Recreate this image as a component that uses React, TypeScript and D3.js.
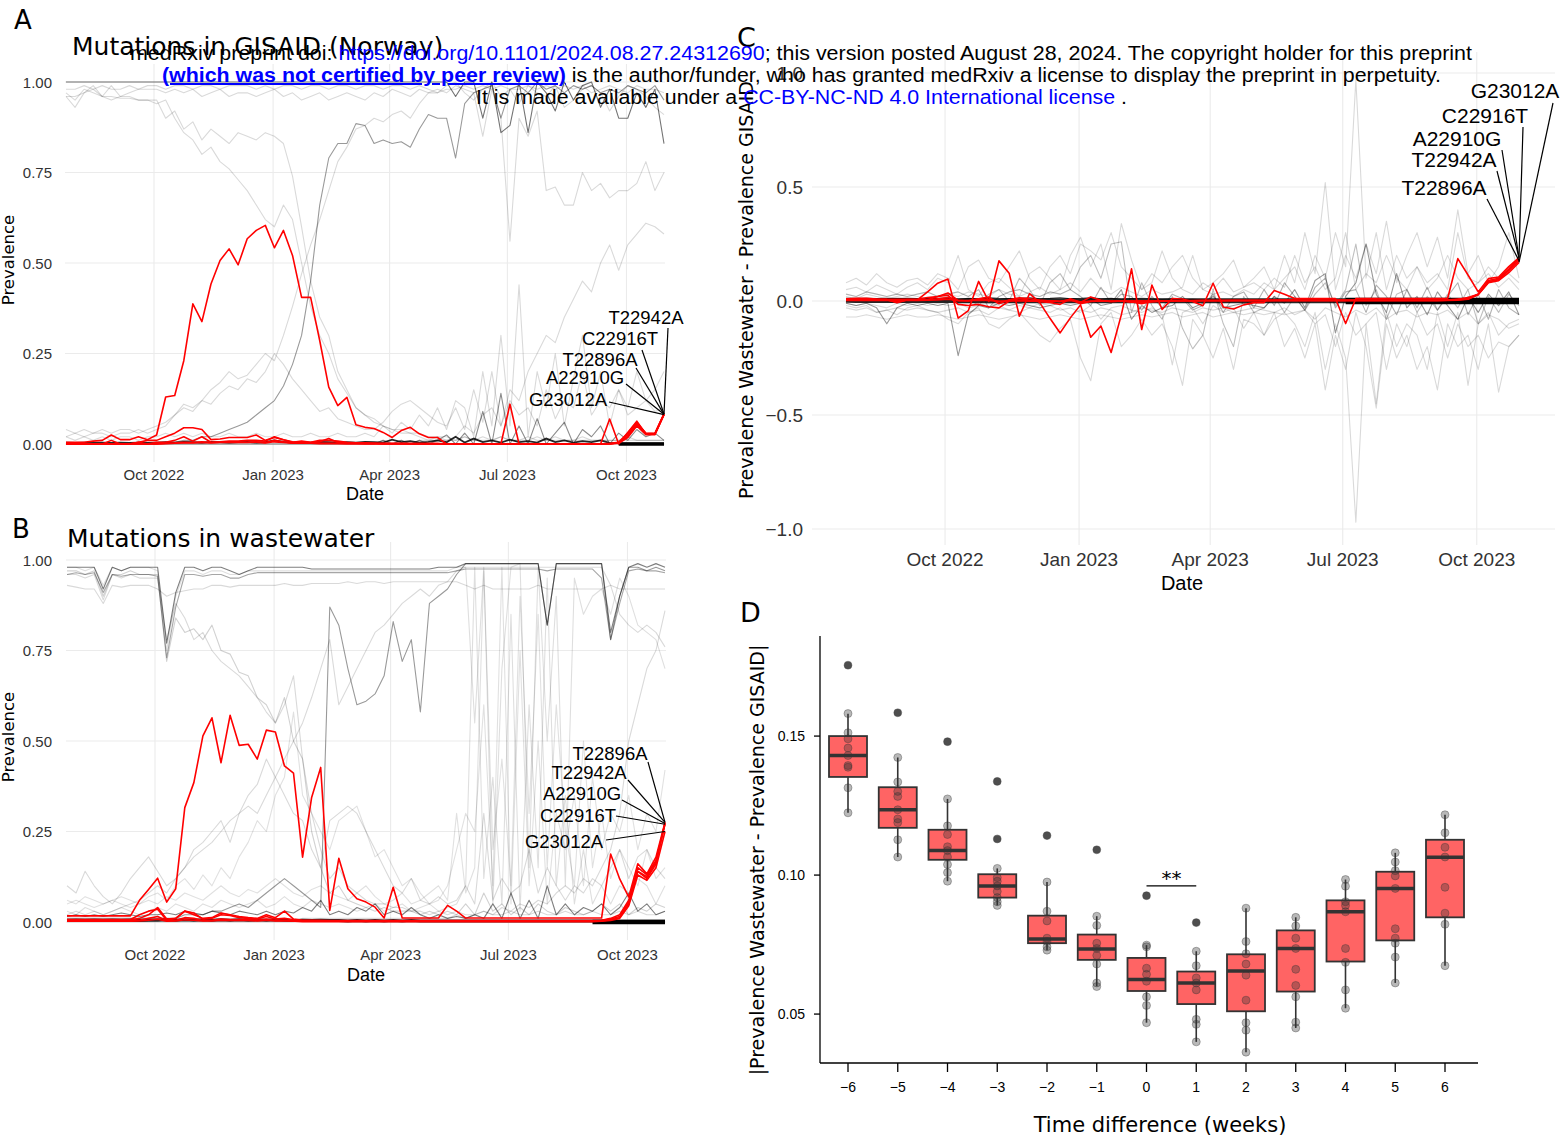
import React from 'react'
import * as d3 from 'd3'

// weekly sampling dates (Mondays), Jul 2022 - Oct 2023
const weekDates = d3.timeMonday.range(new Date(2022, 6, 25), new Date(2023, 9, 31))
const dateTicks = [new Date(2022, 9, 1), new Date(2023, 0, 1), new Date(2023, 3, 1), new Date(2023, 6, 1), new Date(2023, 9, 1)]
const mutations = ['G23012A', 'C22916T', 'A22910G', 'T22942A', 'T22896A']

// ---------- A: GISAID prevalence ----------
const gisaidG23012A = [
  0, 0, 0, 0, 0, 0, 0, 0, 0, 0,
  0, 0.001, 0.002, 0.003, 0.003, 0.004, 0.003, 0.004, 0.005, 0.004,
  0.004, 0.005, 0.003, 0.006, 0.004, 0.002, 0.002, 0.002, 0.001, 0.001,
  0.001, 0.001, 0.001, 0, 0, 0, 0, 0, 0, 0,
  0, 0, 0, 0, 0, 0, 0, 0, 0, 0,
  0, 0, 0, 0, 0, 0, 0, 0, 0, 0,
  0, 0.002, 0.018, 0.05, 0.026, 0.026, 0.081,
]
const gisaidC22916T = [
  0, 0, 0, 0, 0, 0, 0, 0, 0.005, 0.01,
  0.01, 0.02, 0.03, 0.045, 0.045, 0.04, 0.012, 0.014, 0.018, 0.018,
  0.018, 0.025, 0.01, 0.018, 0.012, 0.005, 0.008, 0.005, 0.01, 0.01,
  0.008, 0.005, 0.003, 0.003, 0.002, 0.002, 0.002, 0.002, 0.001, 0.001,
  0.001, 0.001, 0, 0, 0, 0, 0, 0, 0, 0,
  0, 0, 0, 0, 0, 0, 0, 0, 0, 0,
  0.002, 0.005, 0.03, 0.06, 0.028, 0.03, 0.083,
]
const gisaidA22910G = [
  0, 0, 0, 0, 0, 0.01, 0, 0, 0.005, 0,
  0.005, 0.005, 0.01, 0.02, 0.008, 0.02, 0.005, 0.006, 0.008, 0.008,
  0.01, 0.01, 0.008, 0.02, 0.012, 0.006, 0.005, 0.004, 0.006, 0.015,
  0.004, 0.003, 0.002, 0.002, 0.002, 0.001, 0.001, 0.001, 0.001, 0.001,
  0.001, 0.001, 0, 0, 0, 0, 0, 0, 0, 0,
  0, 0, 0, 0, 0, 0, 0, 0, 0, 0,
  0, 0.004, 0.025, 0.058, 0.03, 0.028, 0.082,
]
const gisaidT22942A = [
  0.005, 0.005, 0.005, 0.008, 0.01, 0.025, 0.012, 0.012, 0.02, 0.012,
  0.025, 0.13, 0.134, 0.23, 0.387, 0.338, 0.442, 0.507, 0.539, 0.495,
  0.567, 0.59, 0.604, 0.542, 0.59, 0.521, 0.405, 0.405, 0.286, 0.157,
  0.106, 0.129, 0.053, 0.046, 0.043, 0.032, 0.018, 0.037, 0.046, 0.028,
  0.018, 0.018, 0, 0, 0, 0, 0, 0, 0, 0.11,
  0, 0, 0, 0, 0, 0, 0, 0, 0, 0,
  0.069, 0, 0.032, 0.063, 0.028, 0.028, 0.083,
]
const gisaidT22896A = [
  0, 0, 0, 0, 0, 0, 0, 0, 0, 0,
  0, 0.002, 0.003, 0.005, 0.004, 0.006, 0.004, 0.005, 0.006, 0.005,
  0.005, 0.006, 0.004, 0.01, 0.006, 0.003, 0.003, 0.002, 0.002, 0.002,
  0.002, 0.001, 0.001, 0.001, 0.001, 0, 0, 0, 0, 0,
  0, 0, 0, 0, 0, 0, 0, 0, 0, 0,
  0, 0, 0, 0, 0, 0, 0, 0, 0, 0,
  0, 0.003, 0.02, 0.055, 0.027, 0.027, 0.082,
]
// other (background) mutations in GISAID
const gisaidBg1 = [
  1, 1, 1, 1, 1, 1, 1, 1, 1, 1,
  1, 1, 1, 1, 1, 1, 1, 1, 1, 1,
  1, 1, 1, 1, 1, 1, 1, 1, 1, 1,
  1, 1, 1, 1, 1, 1, 1, 1, 1, 1,
  1, 1, 1, 0.96, 1, 1, 0.9, 1, 0.86, 0.88,
  1, 0.86, 1, 0.97, 0.92, 1, 0.95, 0.99, 1, 0.93,
  0.98, 0.9, 0.9, 0.97, 0.93, 0.98, 0.83,
]
const gisaidBg2 = [
  0.96, 0.93, 0.97, 0.99, 0.96, 0.99, 0.96, 0.97, 0.98, 0.99,
  0.99, 0.98, 0.99, 0.99, 0.98, 0.99, 0.99, 0.98, 0.99, 0.99,
  0.99, 0.98, 0.99, 0.98, 0.99, 0.99, 0.98, 0.99, 0.99, 0.98,
  0.99, 0.99, 0.98, 0.99, 0.99, 0.98, 0.99, 0.99, 0.98, 0.99,
  0.98, 0.97, 0.99, 1, 0.97, 0.95, 0.98, 1, 0.96, 0.98,
  0.94, 0.99, 0.97, 0.96, 0.99, 0.93, 0.95, 0.98, 0.99, 0.97,
  0.92, 0.96, 0.99, 0.98, 0.96, 0.93, 0.91,
]
const gisaidBg3 = [
  0.97, 0.95, 0.98, 0.97, 0.96, 0.96, 0.955, 0.955, 0.95, 0.95,
  0.95, 0.9, 0.92, 0.87, 0.89, 0.84, 0.87, 0.85, 0.83, 0.86,
  0.85, 0.84, 0.86, 0.85, 0.83, 0.74, 0.6, 0.45, 0.35, 0.3,
  0.2, 0.15, 0.1, 0.08, 0.06, 0.05, 0.04, 0.03, 0.03, 0.02,
  0.01, 0.01, 0.01, 0.01, 0.02, 0.01, 0.01, 0.01, 0.02, 0.01,
  0.01, 0.01, 0.02, 0.01, 0.01, 0.01, 0.01, 0.01, 0.01, 0.01,
  0.01, 0.01, 0.01, 0.01, 0.01, 0.01, 0.01,
]
const gisaidBg4 = [
  0.96, 0.96, 0.97, 0.98, 0.96, 0.95, 0.96, 0.96, 0.95, 0.95,
  0.94, 0.95, 0.9, 0.86, 0.84, 0.8, 0.82, 0.78, 0.76, 0.73,
  0.7, 0.66, 0.62, 0.6, 0.66, 0.62, 0.5, 0.38, 0.3, 0.25,
  0.18, 0.14, 0.1, 0.08, 0.07, 0.05, 0.04, 0.04, 0.03, 0.03,
  0.02, 0.02, 0.02, 0.01, 0.02, 0.01, 0.02, 0.01, 0.02, 0.01,
  0.01, 0.02, 0.01, 0.01, 0.02, 0.01, 0.01, 0.02, 0.01, 0.01,
  0.01, 0.01, 0.02, 0.01, 0.01, 0.01, 0.01,
]
const gisaidBg5 = [
  0, 0, 0, 0, 0, 0, 0, 0, 0, 0,
  0, 0.005, 0.005, 0.01, 0.01, 0.02, 0.02, 0.03, 0.04, 0.05,
  0.06, 0.08, 0.1, 0.12, 0.16, 0.22, 0.3, 0.45, 0.66, 0.79,
  0.83, 0.83, 0.885, 0.88, 0.83, 0.84, 0.83, 0.835, 0.82, 0.87,
  0.91, 0.9, 0.9, 0.79, 0.94, 0.97, 0.98, 0.99, 0.9, 0.98,
  0.99, 0.97, 1, 0.98, 0.99, 0.97, 0.99, 0.98, 0.99, 0.97,
  0.98, 0.97, 0.99, 0.98, 0.97, 0.99, 0.95,
]
const gisaidBg6 = [
  0.02, 0.03, 0.02, 0.03, 0.03, 0.02, 0.03, 0.03, 0.04, 0.03,
  0.04, 0.05, 0.08, 0.11, 0.1, 0.12, 0.15, 0.17, 0.2, 0.18,
  0.19, 0.22, 0.25, 0.23, 0.3, 0.38, 0.47, 0.55, 0.62, 0.7,
  0.78, 0.82, 0.87, 0.88, 0.9, 0.89, 0.91, 0.92, 0.9, 0.94,
  0.97, 0.97, 0.98, 0.98, 0.99, 0.98, 0.99, 0.98, 0.99, 0.98,
  0.98, 0.99, 0.98, 0.99, 0.98, 0.99, 0.98, 0.99, 0.97, 0.98,
  0.99, 0.98, 0.97, 0.99, 0.98, 0.98, 0.97,
]
const gisaidBg7 = [
  0.04, 0.03, 0.04, 0.03, 0.04, 0.03, 0.04, 0.04, 0.03, 0.04,
  0.05, 0.06, 0.08, 0.1, 0.09, 0.12, 0.11, 0.14, 0.16, 0.15,
  0.18, 0.17, 0.2, 0.25, 0.22, 0.18, 0.15, 0.12, 0.09, 0.1,
  0.07, 0.06, 0.05, 0.04, 0.04, 0.06, 0.09, 0.11, 0.12, 0.1,
  0.08, 0.06, 0.05, 0.1, 0.04, 0.15, 0.06, 0.2, 0.05, 0.12,
  0.08, 0.1, 0.05, 0.15, 0.07, 0.12, 0.1, 0.2, 0.08, 0.12,
  0.1, 0.15, 0.08, 0.1, 0.12, 0.09, 0.1,
]
const gisaidBg8 = [
  0, 0, 0, 0, 0, 0, 0, 0, 0, 0,
  0, 0, 0, 0, 0, 0, 0, 0, 0, 0,
  0, 0, 0, 0, 0, 0, 0, 0, 0, 0,
  0, 0, 0, 0, 0, 0.01, 0, 0.01, 0, 0.01,
  0.01, 0.02, 0.01, 0.02, 0.05, 0.03, 0.08, 0.1, 0.05, 0.15,
  0.12, 0.2, 0.25, 0.3, 0.28, 0.35, 0.4, 0.45, 0.42, 0.5,
  0.55, 0.48, 0.55, 0.58, 0.61, 0.6, 0.58,
]
const gisaidBg9 = [
  0.98, 0.98, 0.99, 0.98, 0.99, 0.98, 0.98, 0.99, 0.98, 0.98,
  0.98, 0.97, 0.98, 0.97, 0.98, 0.96, 0.97, 0.98, 0.96, 0.97,
  0.97, 0.96, 0.97, 0.98, 0.96, 0.97, 0.95, 0.96, 0.97, 0.95,
  0.96, 0.97, 0.96, 0.95, 0.97, 0.96, 0.98, 0.97, 0.96, 0.98,
  0.97, 0.98, 0.97, 0.99, 0.98, 0.97, 0.85, 0.98, 0.9, 0.56,
  0.9, 0.85, 0.92, 0.7, 0.71, 0.66, 0.66, 0.75, 0.7, 0.72,
  0.68, 0.7, 0.7, 0.72, 0.78, 0.7, 0.75,
]
const gisaidBg10 = [
  0, 0, 0, 0, 0, 0, 0, 0, 0, 0,
  0, 0, 0, 0, 0, 0, 0, 0, 0, 0,
  0, 0, 0, 0, 0, 0, 0, 0, 0, 0,
  0, 0, 0, 0, 0, 0.01, 0, 0.01, 0, 0.01,
  0, 0.01, 0.025, 0, 0.03, 0, 0.09, 0, 0.14, 0,
  0.05, 0, 0.07, 0, 0.03, 0.06, 0, 0.04, 0.02, 0.05,
  0, 0.03, 0.01, 0.04, 0.02, 0.03, 0.01,
]
const gisaidBg11 = [
  0.02, 0.01, 0.02, 0.01, 0.02, 0.01, 0.02, 0.02, 0.01, 0.02,
  0.02, 0.03, 0.02, 0.03, 0.02, 0.03, 0.02, 0.02, 0.03, 0.02,
  0.02, 0.03, 0.02, 0.02, 0.03, 0.02, 0.02, 0.03, 0.02, 0.02,
  0.03, 0.02, 0.02, 0.03, 0.02, 0.05, 0.03, 0.06, 0.04, 0.08,
  0.05, 0.1, 0.04, 0.12, 0.1, 0.02, 0.2, 0.05, 0.3, 0.05,
  0.44, 0.02, 0.2, 0.1, 0.25, 0.05, 0.18, 0.3, 0.1, 0.2,
  0.05, 0.15, 0.1, 0.2, 0.12, 0.15, 0.2,
]
const gisaidLow = [
  0.004, 0.003, 0.004, 0.003, 0.004, 0.003, 0.004, 0.003, 0.004, 0.003,
  0.004, 0.005, 0.004, 0.006, 0.005, 0.004, 0.006, 0.005, 0.004, 0.005,
  0.006, 0.004, 0.005, 0.01, 0.006, 0.004, 0.005, 0.004, 0.006, 0.005,
  0.004, 0.005, 0.004, 0.006, 0.005, 0.004, 0.012, 0.005, 0.008, 0.004,
  0.006, 0.01, 0.005, 0.02, 0.004, 0.015, 0.005, 0.01, 0.004, 0.012,
  0.005, 0.008, 0.004, 0.015, 0.005, 0.01, 0.004, 0.008, 0.005, 0.01,
  0.003, 0.002, 0.002, 0.002, 0.002, 0.002, 0.002,
]
const gisaidTail = [0, 0, 0, 0, 0, 0]

// ---------- B: wastewater prevalence ----------
const wwG23012A = [
  0.002, 0.002, 0.002, 0.002, 0.002, 0.002, 0.002, 0.002, 0.003, 0.005,
  0.008, 0.002, 0.003, 0.006, 0.005, 0.003, 0.003, 0.005, 0.004, 0.004,
  0.004, 0.003, 0.005, 0.003, 0.003, 0.002, 0.001, 0.001, 0.001, 0.001,
  0.001, 0.001, 0.001, 0.001, 0.001, 0.001, 0.001, 0.001, 0.001, 0.001,
  0.001, 0.001, 0.001, 0.001, 0.001, 0.001, 0.001, 0.001, 0.001, 0.001,
  0.001, 0.001, 0.001, 0.001, 0.001, 0.001, 0.001, 0.001, 0.001, 0.002,
  0.004, 0.01, 0.045, 0.13, 0.115, 0.15, 0.25,
]
const wwC22916T = [
  0.007, 0.007, 0.007, 0.007, 0.007, 0.007, 0.007, 0.007, 0.02, 0.03,
  0.035, 0.005, 0.01, 0.03, 0.02, 0.01, 0.012, 0.025, 0.02, 0.015,
  0.012, 0.01, 0.02, 0.012, 0.03, 0.008, 0.005, 0.005, 0.005, 0.004,
  0.004, 0.004, 0.004, 0.004, 0.004, 0.004, 0.004, 0.004, 0.004, 0.004,
  0.004, 0.004, 0.004, 0.004, 0.004, 0.004, 0.004, 0.004, 0.004, 0.004,
  0.004, 0.004, 0.004, 0.004, 0.004, 0.004, 0.004, 0.004, 0.004, 0.005,
  0.01, 0.02, 0.06, 0.15, 0.13, 0.17, 0.27,
]
const wwA22910G = [
  0.005, 0.005, 0.006, 0.005, 0.005, 0.005, 0.006, 0.005, 0.01, 0.02,
  0.04, 0.008, 0.01, 0.03, 0.025, 0.008, 0.01, 0.02, 0.018, 0.012,
  0.01, 0.008, 0.015, 0.008, 0.01, 0.006, 0.004, 0.004, 0.003, 0.003,
  0.003, 0.003, 0.003, 0.003, 0.003, 0.003, 0.003, 0.003, 0.003, 0.003,
  0.003, 0.003, 0.003, 0.003, 0.003, 0.003, 0.003, 0.003, 0.003, 0.003,
  0.003, 0.003, 0.003, 0.003, 0.003, 0.003, 0.003, 0.003, 0.003, 0.004,
  0.008, 0.015, 0.055, 0.14, 0.125, 0.165, 0.272,
]
const wwT22942A = [
  0.017, 0.017, 0.017, 0.017, 0.017, 0.017, 0.017, 0.017, 0.06, 0.09,
  0.121, 0.055, 0.092, 0.316, 0.385, 0.514, 0.564, 0.44, 0.571, 0.488,
  0.491, 0.45, 0.53, 0.525, 0.431, 0.411, 0.179, 0.344, 0.427, 0.032,
  0.176, 0.092, 0.064, 0.055, 0.041, 0.011, 0.096, 0.011, 0.011, 0.011,
  0.011, 0.011, 0.046, 0.03, 0.011, 0.011, 0.011, 0.011, 0.011, 0.011,
  0.011, 0.011, 0.011, 0.011, 0.011, 0.011, 0.011, 0.011, 0.011, 0.011,
  0.188, 0.119, 0.069, 0.161, 0.133, 0.179, 0.275,
]
const wwT22896A = [
  0.003, 0.003, 0.003, 0.003, 0.003, 0.003, 0.003, 0.003, 0.005, 0.01,
  0.015, 0.004, 0.005, 0.012, 0.01, 0.004, 0.005, 0.008, 0.007, 0.006,
  0.006, 0.005, 0.008, 0.004, 0.005, 0.003, 0.002, 0.002, 0.002, 0.002,
  0.002, 0.002, 0.002, 0.002, 0.002, 0.002, 0.002, 0.002, 0.002, 0.002,
  0.002, 0.002, 0.002, 0.002, 0.002, 0.002, 0.002, 0.002, 0.002, 0.002,
  0.002, 0.002, 0.002, 0.002, 0.002, 0.002, 0.002, 0.002, 0.002, 0.003,
  0.006, 0.012, 0.05, 0.14, 0.12, 0.16, 0.275,
]
const wwBg1 = [
  0.98, 0.98, 0.98, 0.98, 0.92, 0.98, 0.97, 0.98, 0.98, 0.98,
  0.98, 0.77, 0.91, 0.98, 0.98, 0.97, 0.98, 0.98, 0.97, 0.96,
  0.97, 0.98, 0.98, 0.98, 0.98, 0.98, 0.98, 0.975, 0.975, 0.975,
  0.975, 0.975, 0.975, 0.975, 0.975, 0.975, 0.975, 0.975, 0.975, 0.975,
  0.975, 0.98, 0.98, 0.98, 0.99, 0.99, 0.99, 0.99, 0.99, 0.99,
  0.99, 0.99, 0.99, 0.82, 0.99, 0.99, 0.99, 0.99, 0.99, 0.99,
  0.8, 0.9, 0.98, 0.99, 0.98, 0.99, 0.98,
]
const wwBg2 = [
  0.96, 0.965, 0.96, 0.965, 0.91, 0.96, 0.955, 0.96, 0.96, 0.96,
  0.955, 0.73, 0.87, 0.96, 0.96, 0.955, 0.96, 0.96, 0.95, 0.95,
  0.96, 0.965, 0.965, 0.965, 0.965, 0.965, 0.965, 0.965, 0.965, 0.965,
  0.965, 0.965, 0.965, 0.965, 0.965, 0.965, 0.965, 0.965, 0.965, 0.965,
  0.965, 0.965, 0.965, 0.97, 0.975, 0.975, 0.975, 0.975, 0.975, 0.975,
  0.975, 0.975, 0.975, 0.97, 0.975, 0.975, 0.975, 0.975, 0.975, 0.95,
  0.78, 0.88, 0.97, 0.975, 0.97, 0.97, 0.965,
]
const wwBg3 = [
  0.93, 0.925, 0.92, 0.92, 0.88, 0.93, 0.925, 0.93, 0.93, 0.93,
  0.92, 0.9, 0.91, 0.915, 0.92, 0.92, 0.93, 0.93, 0.925, 0.93,
  0.93, 0.93, 0.93, 0.93, 0.935, 0.93, 0.93, 0.935, 0.935, 0.935,
  0.935, 0.94, 0.935, 0.94, 0.94, 0.935, 0.94, 0.94, 0.94, 0.94,
  0.94, 0.94, 0.94, 0.94, 0.93, 0.92, 0.93, 0.92, 0.92, 0.92,
  0.92, 0.92, 0.93, 0.92, 0.92, 0.92, 0.92, 0.92, 0.92, 0.92,
  0.93, 0.92, 0.92, 0.92, 0.92, 0.92, 0.92,
]
const wwBg4 = [
  0.97, 0.97, 0.96, 0.97, 0.9, 0.96, 0.96, 0.97, 0.96, 0.96,
  0.96, 0.72, 0.84, 0.8, 0.81, 0.78, 0.82, 0.75, 0.74, 0.69,
  0.68, 0.62, 0.6, 0.55, 0.62, 0.5, 0.45, 0.25, 0.15, 0.08,
  0.1, 0.06, 0.05, 0.04, 0.03, 0.04, 0.03, 0.03, 0.03, 0.02,
  0.03, 0.02, 0.03, 0.02, 0.05, 0.02, 0.08, 0.03, 0.05, 0.02,
  0.04, 0.02, 0.05, 0.03, 0.02, 0.04, 0.03, 0.02, 0.03, 0.05,
  0.03, 0.05, 0.02, 0.04, 0.03, 0.05, 0.04,
]
const wwBg5 = [
  0.96, 0.96, 0.95, 0.96, 0.89, 0.96, 0.95, 0.96, 0.95, 0.95,
  0.95, 0.78, 0.88, 0.84, 0.78, 0.8, 0.75, 0.72, 0.7, 0.68,
  0.65, 0.62, 0.58, 0.55, 0.6, 0.68, 0.45, 0.3, 0.2, 0.12,
  0.15, 0.1, 0.08, 0.06, 0.05, 0.05, 0.04, 0.04, 0.03, 0.03,
  0.02, 0.03, 0.02, 0.03, 0.02, 0.02, 0.03, 0.02, 0.02, 0.03,
  0.02, 0.02, 0.03, 0.02, 0.02, 0.03, 0.02, 0.02, 0.03, 0.02,
  0.02, 0.03, 0.02, 0.03, 0.02, 0.02, 0.03,
]
const wwBg6 = [
  0.01, 0.01, 0.01, 0.01, 0.01, 0.01, 0.01, 0.01, 0.01, 0.01,
  0.01, 0.01, 0.01, 0.02, 0.02, 0.02, 0.03, 0.03, 0.04, 0.05,
  0.04, 0.06, 0.08, 0.1, 0.12, 0.1, 0.08, 0.06, 0.04, 0.87,
  0.82, 0.7, 0.6, 0.61, 0.63, 0.68, 0.83, 0.72, 0.78, 0.58,
  0.88, 0.9, 0.92, 0.96, 0.99, 0.99, 0.99, 0.99, 0.99, 0.99,
  0.99, 0.99, 0.99, 0.82, 0.99, 0.99, 0.99, 0.99, 0.99, 0.99,
  0.78, 0.9, 0.98, 0.98, 0.97, 0.98, 0.97,
]
const wwBg7 = [
  0.02, 0.03, 0.02, 0.03, 0.02, 0.03, 0.04, 0.05, 0.06, 0.08,
  0.1, 0.08, 0.12, 0.15, 0.18, 0.2, 0.22, 0.25, 0.28, 0.3,
  0.32, 0.3, 0.35, 0.4, 0.45, 0.5, 0.55, 0.62, 0.7, 0.78,
  0.6, 0.65, 0.7, 0.75, 0.8, 0.82, 0.85, 0.88, 0.9, 0.92,
  0.9, 0.93, 0.94, 0.97, 0.98, 0.98, 0.98, 0.98, 0.98, 0.98,
  0.98, 0.98, 0.98, 0.98, 0.98, 0.98, 0.98, 0.98, 0.98, 0.98,
  0.93, 0.85, 0.82, 0.8, 0.82, 0.8, 0.76,
]
const wwBg8 = [
  0.03, 0.02, 0.04, 0.03, 0.02, 0.03, 0.04, 0.03, 0.02, 0.03,
  0.04, 0.03, 0.05, 0.04, 0.03, 0.05, 0.04, 0.06, 0.05, 0.04,
  0.05, 0.06, 0.04, 0.05, 0.07, 0.05, 0.04, 0.06, 0.05, 0.04,
  0.05, 0.04, 0.03, 0.04, 0.05, 0.03, 0.04, 0.05, 0.03, 0.04,
  0.05, 0.03, 0.04, 0.05, 0.1, 0.98, 0.12, 0.4, 0.05, 0.85,
  0.03, 0.6, 0.15, 0.95, 0.1, 0.35, 0.05, 0.2, 0.05, 0.1,
  0.05, 0.1, 0.08, 0.12, 0.1, 0.05, 0.1,
]
const wwBg9 = [
  0.98, 0.98, 0.97, 0.98, 0.93, 0.98, 0.97, 0.98, 0.98, 0.98,
  0.97, 0.75, 0.9, 0.97, 0.97, 0.96, 0.97, 0.97, 0.96, 0.96,
  0.97, 0.97, 0.97, 0.97, 0.97, 0.97, 0.97, 0.97, 0.97, 0.97,
  0.97, 0.97, 0.97, 0.97, 0.97, 0.97, 0.97, 0.97, 0.97, 0.97,
  0.97, 0.97, 0.97, 0.98, 0.98, 0.55, 0.98, 0.05, 0.7, 0.98,
  0.99, 0.15, 0.98, 0.5, 0.9, 0.1, 0.95, 0.85, 0.9, 0.92,
  0.85, 0.95, 0.9, 0.82, 0.8, 0.78, 0.7,
]
const wwBg10 = [
  0.1, 0.08, 0.14, 0.1, 0.07, 0.05, 0.08, 0.12, 0.15, 0.18,
  0.14, 0.1, 0.12, 0.15, 0.2, 0.22, 0.25, 0.28, 0.22, 0.3,
  0.35, 0.38, 0.45, 0.4, 0.35, 0.3, 0.28, 0.2, 0.15, 0.28,
  0.3, 0.32, 0.3, 0.25, 0.2, 0.15, 0.1, 0.08, 0.12, 0.06,
  0.05, 0.07, 0.05, 0.06, 0.1, 0.05, 0.3, 0.06, 0.12, 0.08,
  0.1, 0.2, 0.08, 0.15, 0.1, 0.06, 0.1, 0.08, 0.12, 0.1,
  0.15, 0.2, 0.12, 0.18, 0.2, 0.15, 0.12,
]
const wwBg11 = [
  0.015, 0.02, 0.015, 0.02, 0.015, 0.02, 0.025, 0.02, 0.015, 0.02,
  0.02, 0.025, 0.02, 0.03, 0.025, 0.02, 0.03, 0.025, 0.02, 0.03,
  0.025, 0.02, 0.03, 0.02, 0.03, 0.025, 0.04, 0.03, 0.06, 0.02,
  0.03, 0.02, 0.04, 0.03, 0.05, 0.02, 0.03, 0.02, 0.04, 0.02,
  0.01, 0.02, 0.01, 0.015, 0.01, 0.02, 0.01, 0.05, 0.01, 0.08,
  0.01, 0.06, 0.01, 0.1, 0.02, 0.05, 0.02, 0.04, 0.03, 0.05,
  0.02, 0.04, 0.08, 0.03, 0.05, 0.02, 0.03,
]
const wwBg12 = [
  0, 0, 0, 0, 0, 0, 0, 0, 0, 0,
  0, 0, 0, 0, 0, 0, 0, 0, 0, 0,
  0, 0, 0, 0, 0, 0, 0.01, 0.01, 0.01, 0.01,
  0.01, 0.01, 0.01, 0.01, 0.01, 0.01, 0.01, 0.01, 0.01, 0.01,
  0.01, 0.01, 0.01, 0.02, 0.01, 0.02, 0.03, 0.02, 0.04, 0.03,
  0.05, 0.04, 0.06, 0.05, 0.08, 0.1, 0.08, 0.12, 0.1, 0.15,
  0.2, 0.3, 0.5, 0.6, 0.7, 0.75, 0.86,
]
const wwBg13 = [
  0.06, 0.05, 0.07, 0.06, 0.05, 0.06, 0.07, 0.06, 0.05, 0.07,
  0.08, 0.06, 0.1, 0.12, 0.09, 0.13, 0.1, 0.15, 0.12, 0.18,
  0.22, 0.28, 0.25, 0.35, 0.4, 0.58, 0.35, 0.3, 0.25, 0.2,
  0.28, 0.3, 0.32, 0.25, 0.18, 0.2, 0.15, 0.1, 0.12, 0.08,
  0.05, 0.06, 0.1, 0.2, 0.3, 0.25, 0.6, 0.1, 0.98, 0.05,
  0.75, 0.1, 0.5, 0.05, 0.3, 0.2, 0.35, 0.1, 0.4, 0.2,
  0.3, 0.25, 0.35, 0.2, 0.3, 0.25, 0.42,
]
const wwBg14 = [
  0.05, 0.06, 0.05, 0.04, 0.05, 0.06, 0.05, 0.04, 0.05, 0.06,
  0.05, 0.07, 0.06, 0.08, 0.07, 0.06, 0.08, 0.1, 0.08, 0.07,
  0.09, 0.08, 0.1, 0.12, 0.1, 0.08, 0.07, 0.09, 0.1, 0.08,
  0.07, 0.06, 0.08, 0.1, 0.07, 0.05, 0.06, 0.08, 0.05, 0.06,
  0.08, 0.1, 0.06, 0.3, 0.08, 0.15, 0.97, 0.2, 0.45, 0.1,
  0.9, 0.3, 0.85, 0.15, 0.6, 0.25, 0.1, 0.5, 0.15, 0.3,
  0.12, 0.2, 0.15, 0.1, 0.2, 0.12, 0.15,
]
const wwLow = [
  0.004, 0.005, 0.004, 0.005, 0.004, 0.005, 0.004, 0.005, 0.004, 0.005,
  0.005, 0.006, 0.005, 0.006, 0.005, 0.006, 0.005, 0.006, 0.005, 0.006,
  0.005, 0.006, 0.005, 0.006, 0.005, 0.004, 0.005, 0.004, 0.005, 0.004,
  0.004, 0.003, 0.004, 0.003, 0.004, 0.003, 0.004, 0.003, 0.004, 0.003,
  0.003, 0.003, 0.003, 0.003, 0.003, 0.003, 0.003, 0.003, 0.003, 0.003,
  0.003, 0.003, 0.003, 0.003, 0.003, 0.003, 0.003, 0.003, 0.003, 0.003,
  0.002, 0.002, 0.002, 0.002, 0.002, 0.002, 0.002,
]
const wwTail = [0, 0, 0, 0, 0, 0, 0, 0, 0]

// ---------- C: wastewater - GISAID ----------
const diffG23012A = [
  0.002, 0.002, 0.002, 0.002, 0.002, 0.002, 0.002, 0.002, 0.003, 0.005,
  0.008, 0.001, 0.001, 0.003, 0.002, -0.001, 0, 0.001, -0.001, 0,
  0, -0.002, 0.002, -0.003, -0.001, 0, -0.001, -0.001, 0, 0,
  0, 0, 0, 0.001, 0.001, 0.001, 0.001, 0.001, 0.001, 0.001,
  0.001, 0.001, 0.001, 0.001, 0.001, 0.001, 0.001, 0.001, 0.001, 0.001,
  0.001, 0.001, 0.001, 0.001, 0.001, 0.001, 0.001, 0.001, 0.001, 0.002,
  0.004, 0.008, 0.027, 0.08, 0.089, 0.124, 0.169,
]
const diffC22916T = [
  0.007, 0.007, 0.007, 0.007, 0.007, 0.007, 0.007, 0.007, 0.015, 0.02,
  0.025, -0.015, -0.02, -0.015, -0.025, -0.03, 0, 0.011, 0.002, -0.003,
  -0.006, -0.015, 0.01, -0.006, 0.018, 0.003, -0.003, 0, -0.005, -0.006,
  -0.004, -0.001, 0.001, 0.001, 0.002, 0.002, 0.002, 0.002, 0.003, 0.003,
  0.003, 0.003, 0.004, 0.004, 0.004, 0.004, 0.004, 0.004, 0.004, 0.004,
  0.004, 0.004, 0.004, 0.004, 0.004, 0.004, 0.004, 0.004, 0.004, 0.005,
  0.008, 0.015, 0.03, 0.09, 0.1, 0.14, 0.187,
]
const diffA22910G = [
  0.005, 0.005, 0.006, 0.005, 0.005, -0.005, 0.006, 0.005, 0.005, 0.02,
  0.035, 0.003, 0, 0.01, 0.017, -0.012, 0.005, 0.014, 0.01, 0.004,
  0, -0.002, 0.007, -0.012, -0.002, 0, -0.001, 0, -0.003, -0.012,
  -0.001, 0, 0.001, 0.001, 0.001, 0.002, 0.002, 0.002, 0.002, 0.002,
  0.002, 0.002, 0.003, 0.003, 0.003, 0.003, 0.003, 0.003, 0.003, 0.003,
  0.003, 0.003, 0.003, 0.003, 0.003, 0.003, 0.003, 0.003, 0.003, 0.004,
  0.008, 0.011, 0.03, 0.082, 0.095, 0.137, 0.19,
]
const diffT22942A = [
  0.01, 0.012, 0.012, 0.009, 0.007, -0.008, 0.005, 0.005, 0.04, 0.078,
  0.096, -0.075, -0.042, 0.086, -0.002, 0.176, 0.122, -0.067, 0.032, -0.007,
  -0.076, -0.14, -0.074, -0.017, -0.159, -0.11, -0.226, -0.061, 0.141, -0.125,
  0.07, -0.037, 0.011, 0.009, -0.002, -0.021, 0.078, -0.026, -0.035, -0.017,
  -0.007, -0.007, 0.046, 0.03, 0.011, 0.011, 0.011, 0.011, 0.011, -0.099,
  0.011, 0.011, 0.011, 0.011, 0.011, 0.011, 0.011, 0.011, 0.011, 0.011,
  0.186, 0.114, 0.04, 0.098, 0.105, 0.151, 0.19,
]
const diffT22896A = [
  0.003, 0.003, 0.003, 0.003, 0.003, 0.003, 0.003, 0.003, 0.005, 0.01,
  0.015, 0.002, 0.002, 0.007, 0.006, -0.002, 0.001, 0.003, 0.001, 0.001,
  0.001, -0.001, 0.004, -0.006, -0.001, 0, -0.001, 0, 0, 0,
  0, 0.001, 0.001, 0.001, 0.001, 0.002, 0.002, 0.002, 0.002, 0.002,
  0.002, 0.002, 0.002, 0.002, 0.002, 0.002, 0.002, 0.002, 0.002, 0.002,
  0.002, 0.002, 0.002, 0.002, 0.002, 0.002, 0.002, 0.002, 0.002, 0.003,
  0.006, 0.009, 0.03, 0.085, 0.093, 0.133, 0.177,
]
const diffBg1 = [
  0.01, 0.012, 0.01, 0.008, 0.01, 0.012, 0.01, 0.008, 0.01, 0.012,
  0.01, 0.008, 0.012, 0.01, 0.015, 0.012, 0.01, 0.012, 0.015, 0.01,
  0.012, 0.015, 0.01, 0.012, 0.015, 0.01, 0.012, 0.008, 0.01, 0.012,
  0.01, 0.008, 0.01, 0.006, 0.008, 0.005, 0.006, 0.004, 0.005, 0.006,
  0.004, 0.006, 0.005, 0.004, 0.006, 0.005, 0.004, 0.006, 0.005, 0.004,
  0.006, 0.005, 0.004, 0.006, 0.005, 0.004, 0.006, 0.005, 0.004, 0.006,
  0.005, 0.004, 0.006, 0.005, 0.004, 0.006, 0.005,
]
const diffBg2 = [
  -0.01, -0.02, -0.01, -0.03, -0.1, -0.03, -0.01, -0.02, -0.01, -0.02,
  -0.01, -0.24, -0.06, -0.02, -0.03, -0.01, -0.02, -0.01, -0.02, -0.03,
  -0.02, -0.01, -0.02, -0.01, 0.01, -0.02, -0.01, 0.05, -0.08, -0.02,
  -0.05, -0.03, -0.02, 0.02, -0.03, -0.01, 0.02, -0.03, -0.02, -0.01,
  -0.02, -0.03, 0.02, -0.01, 0.05, -0.03, 0.09, 0.12, -0.14, 0.02,
  0.08, 0.25, 0.03, -0.05, 0.12, -0.03, 0.02, -0.06, 0.04, -0.02,
  -0.08, 0.02, -0.05, 0.03, -0.02, 0.04, -0.06,
]
const diffBg3 = [
  0.05, 0.06, 0.04, 0.07, 0.05, 0.03, 0.06, 0.08, 0.05, 0.1,
  0.08, 0.2, 0.05, 0.02, 0.08, 0.1, 0.06, 0.02, 0.12, 0.15,
  0.1, 0.05, 0.2, 0.28, 0.15, 0.25, 0.05, 0.34, 0.18, 0.05,
  0.12, 0.08, 0.15, 0.2, 0.1, 0.05, 0.08, 0.12, 0.18, 0.06,
  0.1, 0.15, 0.05, 0.2, 0.08, 0.3, 0.12, 0.52, 0.05, 0.2,
  0.1, 0.25, 0.12, 0.35, 0.08, 0.2, 0.3, 0.15, 0.28, 0.1,
  0.4, 0.12, 0.2, 0.08, 0.15, 0.3, 0.1,
]
const diffBg4 = [
  -0.02, -0.03, -0.02, -0.05, -0.04, -0.06, -0.03, -0.02, -0.04, -0.05,
  -0.08, -0.1, -0.05, -0.03, -0.1, -0.12, -0.08, -0.05, -0.1, -0.15,
  -0.18, -0.12, -0.08, -0.25, -0.35, -0.1, -0.05, -0.2, -0.15, -0.08,
  -0.15, -0.1, -0.2, -0.37, -0.08, -0.15, -0.25, -0.12, -0.3, -0.08,
  -0.1, -0.15, -0.05, -0.2, -0.12, -0.25, -0.1, -0.39, -0.15, -0.3,
  -0.05, -0.2, -0.47, -0.1, -0.25, -0.15, -0.3, -0.2, -0.39, -0.1,
  -0.2, -0.15, -0.3, -0.1, -0.4, -0.2, -0.15,
]
const diffBg5 = [
  0.02, 0.01, 0.03, 0.02, 0.01, 0.02, 0.03, 0.02, 0.01, 0.02,
  0.03, 0.02, 0.04, 0.03, 0.02, 0.05, 0.03, 0.02, 0.04, 0.06,
  0.03, 0.05, 0.08, 0.04, 0.1, 0.05, 0.03, 0.06, 0.04, 0.02,
  0.05, 0.03, 0.04, 0.06, 0.2, 0.05, 0.03, 0.04, 0.02, 0.05,
  0.03, 0.08, 0.05, 0.1, 0.15, 0.05, 0.2, 0.1, 0.3, 0.15,
  0.97, 0.1, 0.3, 0.05, 0.2, 0.1, 0.15, 0.05, 0.1, 0.2,
  0.1, 0.05, 0.08, 0.12, 0.06, 0.1, 0.05,
]
const diffBg6 = [
  -0.01, -0.02, -0.01, -0.02, -0.03, -0.01, -0.02, -0.01, -0.02, -0.01,
  -0.02, -0.01, -0.03, -0.02, -0.01, -0.02, -0.04, -0.02, -0.03, -0.01,
  -0.02, -0.04, -0.03, -0.05, -0.02, -0.08, -0.03, -0.02, -0.04, -0.05,
  -0.03, -0.06, -0.28, -0.05, -0.03, -0.1, -0.02, -0.05, -0.03, -0.12,
  -0.05, -0.15, -0.08, -0.05, -0.1, -0.2, -0.05, -0.3, -0.1, -0.25,
  -0.97, -0.1, -0.45, -0.05, -0.2, -0.1, -0.15, -0.3, -0.05, -0.2,
  -0.05, -0.37, -0.1, -0.05, -0.15, -0.1, -0.08,
]
const diffBg7 = [
  0.08, 0.1, 0.07, 0.12, 0.08, 0.06, 0.09, 0.1, 0.07, 0.12,
  0.1, 0.05, 0.15, 0.18, 0.1, 0.08, 0.15, 0.22, 0.1, 0.05,
  0.15, 0.2, 0.12, 0.25, 0.22, 0.18, 0.3, 0.15, 0.1, 0.05,
  0.08, 0.22, 0.1, 0.05, 0.03, 0.08, 0.05, 0.1, 0.04, 0.06,
  0.08, 0.05, 0.1, 0.06, 0.2, 0.08, 0.15, 0.05, 0.1, 0.3,
  0.05, 0.12, 0.08, 0.2, 0.1, 0.05, 0.15, 0.08, 0.12, 0.05,
  0.3, 0.1, 0.08, 0.15, 0.1, 0.12, 0.08,
]
const diffBg8 = [
  -0.07, -0.07, -0.06, -0.07, -0.08, -0.07, -0.06, -0.07, -0.07, -0.06,
  -0.07, -0.08, -0.07, -0.06, -0.07, -0.08, -0.07, -0.06, -0.07, -0.08,
  -0.07, -0.06, -0.07, -0.08, -0.07, -0.06, -0.07, -0.08, -0.07, -0.06,
  -0.07, -0.06, -0.05, -0.07, -0.06, -0.05, -0.07, -0.06, -0.05, -0.06,
  -0.05, -0.06, -0.05, -0.06, -0.05, -0.04, -0.1, -0.06, -0.2, -0.05,
  -0.15, -0.1, -0.05, -0.3, -0.1, -0.2, -0.05, -0.15, -0.1, -0.25,
  -0.1, -0.2, -0.15, -0.25, -0.18, -0.2, -0.15,
]
const diffBg9 = [
  0.03, 0.02, 0.04, 0.03, 0.02, 0.03, 0.02, 0.03, 0.04, 0.02,
  0.03, 0.04, 0.02, 0.05, -0.03, 0.02, 0.04, 0.05, 0.03, 0.02,
  0.04, 0.03, 0.05, 0.02, -0.02, 0.06, -0.01, 0.03, 0.02, -0.04,
  0.02, -0.03, 0.03, 0.01, -0.04, -0.02, 0.03, -0.05, 0.02, 0.04,
  -0.03, 0.05, -0.02, 0.08, 0.02, -0.04, 0.06, 0.1, -0.03, 0.04,
  0.05, -0.05, 0.07, 0.02, -0.06, 0.05, -0.03, 0.06, -0.04, 0.02,
  0.08, -0.06, 0.03, -0.08, 0.05, -0.03, -0.06,
]
const diffBg10 = [
  0, 0.01, 0, 0.01, 0, -0.01, 0, 0.01, 0, 0.01,
  0.02, 0, 0.01, -0.02, 0.03, 0.05, 0, 0.1, 0.05, -0.02,
  0.08, 0.12, 0.05, 0.15, 0.2, 0.1, 0.25, 0.26, -0.05, 0.08,
  -0.02, -0.08, 0.02, -0.12, -0.21, -0.15, 0.05, -0.1, -0.2, 0.02,
  -0.05, -0.03, 0.02, -0.05, 0.02, -0.04, 0.03, 0.08, -0.02, 0.05,
  0.25, -0.02, 0.05, -0.08, 0.03, 0.05, -0.05, 0.02, -0.04, 0.03,
  -0.03, 0.05, -0.1, 0.02, -0.05, 0.03, -0.02,
]
const diffBg11 = [
  -0.03, -0.04, -0.03, -0.05, -0.04, -0.03, -0.04, -0.03, -0.04, -0.05,
  -0.04, -0.03, -0.05, -0.04, -0.06, -0.03, -0.04, -0.05, -0.03, -0.04,
  -0.05, -0.03, -0.06, -0.04, -0.05, -0.03, -0.04, -0.06, -0.05, -0.03,
  -0.04, -0.05, -0.03, -0.04, -0.05, -0.03, -0.04, -0.03, -0.05, -0.04,
  -0.03, -0.04, -0.05, -0.03, -0.06, -0.04, -0.08, -0.03, -0.05, -0.07,
  -0.04, -0.06, -0.03, -0.08, -0.05, -0.04, -0.07, -0.05, -0.06, -0.04,
  -0.08, -0.05, -0.1, -0.06, -0.08, -0.12, -0.1,
]
const diffLow = [
  0.003, 0.002, 0.003, 0.002, 0.003, 0.002, 0.003, 0.002, 0.003, 0.002,
  0.003, 0.001, 0.002, 0.001, 0.002, 0.001, 0.002, 0.001, 0.002, 0.001,
  0.002, 0.001, 0.002, 0.001, 0.002, 0.001, 0.002, 0.001, 0.002, 0.001,
  0.001, 0.001, 0.001, 0.001, 0.001, 0.001, 0.001, 0.001, 0.001, 0.001,
  0.001, 0.001, 0.001, 0.001, 0.001, 0.001, 0.001, 0.001, 0.001, 0.001,
  0.001, 0.001, 0.001, 0.001, 0.001, 0.001, 0.001, 0.001, 0.001, 0.001,
  0.001, 0.001, 0.001, 0.001, 0.001, 0.001, 0.001,
]
const diffTail = [0, 0, 0, 0, 0, 0, 0, 0, 0, 0, 0, 0, 0, 0, 0, 0, 0, 0]

// ---------- D: |ww - gisaid| by time lag ----------
const lagWeeks = [-6, -5, -4, -3, -2, -1, 0, 1, 2, 3, 4, 5, 6]
const boxQ1 = [0.1353, 0.117, 0.1055, 0.0919, 0.0755, 0.0695, 0.0583, 0.0536, 0.051, 0.0581, 0.0689, 0.0765, 0.0848]
const boxMedian = [0.143, 0.1235, 0.1088, 0.0961, 0.077, 0.0734, 0.0624, 0.0612, 0.0655, 0.0736, 0.0868, 0.0952, 0.1064]
const boxQ3 = [0.15, 0.1316, 0.1163, 0.1003, 0.0854, 0.0786, 0.0702, 0.0653, 0.0715, 0.0801, 0.0909, 0.1012, 0.1127]
const whiskerLow = [0.1224, 0.1065, 0.0978, 0.0891, 0.073, 0.06, 0.0469, 0.04, 0.0363, 0.045, 0.0521, 0.0612, 0.0674]
const whiskerHigh = [0.158, 0.1423, 0.1274, 0.1024, 0.0975, 0.0852, 0.0748, 0.0726, 0.0881, 0.0848, 0.0984, 0.108, 0.1217]
const outliers = [[0.1755], [0.1584], [0.148], [0.1337, 0.113], [0.1142], [0.1091], [0.0926], [0.0829], [], [], [], [], []]
const lagPoints = [
  [0.1755, 0.1581, 0.1512, 0.149, 0.1457, 0.143, 0.1394, 0.1388, 0.1314, 0.1224],
  [0.1584, 0.1423, 0.1335, 0.1301, 0.1283, 0.1235, 0.1202, 0.1189, 0.1127, 0.1065],
  [0.148, 0.1274, 0.1177, 0.1146, 0.1102, 0.1088, 0.1065, 0.1038, 0.1009, 0.0978],
  [0.1337, 0.113, 0.1024, 0.0991, 0.0978, 0.0961, 0.0941, 0.0919, 0.0904, 0.0891],
  [0.1142, 0.0975, 0.087, 0.0835, 0.0773, 0.0761, 0.0742, 0.073],
  [0.1091, 0.0852, 0.0819, 0.0755, 0.0736, 0.0711, 0.068, 0.0612, 0.0599],
  [0.0926, 0.0748, 0.0742, 0.0665, 0.0643, 0.0618, 0.0562, 0.0531, 0.0469],
  [0.0829, 0.0726, 0.0674, 0.063, 0.0612, 0.0587, 0.0481, 0.0463, 0.04],
  [0.0881, 0.0761, 0.0717, 0.068, 0.064, 0.055, 0.0469, 0.0442, 0.0363],
  [0.0848, 0.0817, 0.0773, 0.0736, 0.0661, 0.0603, 0.0562, 0.0471, 0.045],
  [0.0984, 0.096, 0.0904, 0.0891, 0.0868, 0.0736, 0.0686, 0.0587, 0.0521],
  [0.108, 0.1047, 0.1016, 0.0997, 0.0952, 0.0807, 0.0773, 0.0755, 0.0705, 0.0612],
  [0.1217, 0.1152, 0.11, 0.1065, 0.0956, 0.0863, 0.0823, 0.0674],
]
const sigPair = [0, 1]
const sigLevel = 0.0961
const sigText = '**'

const SANS = 'Liberation Sans, Arial, sans-serif'
const DEJAVU = 'DejaVu Sans, sans-serif'

type Lbl = { name: string; tx: number; ty: number; sx: number; sy: number }
type Cfg = {
  xRange: [number, number]
  yRange: [number, number]
  yDomain: [number, number]
  box: { l: number; r: number; t: number; b: number }
  yTicks: number[]
  yFmt: (v: number) => string
  tick: number
  yLabX: number
  xLabY: number
  greys: number[][]
  greyAlpha: number[]
  low: number[]
  lowWidth: number
  tail: number[]
  reds: number[][]
  labels: Lbl[]
  labelSize: number
}

function timePanel(c: Cfg) {
  const x = d3.scaleTime().domain([weekDates[0], weekDates[weekDates.length - 1]]).range(c.xRange)
  const y = d3.scaleLinear().domain(c.yDomain).range(c.yRange)
  const line = d3.line<number>().x((_, i) => x(weekDates[i])).y(d => y(d))
  const tailLine = d3
    .line<number>()
    .x((_, i) => x(weekDates[weekDates.length - c.tail.length + i]))
    .y(d => y(d))
  const lastX = x(weekDates[weekDates.length - 1])
  const fmt = d3.timeFormat('%b %Y')
  return (
    <g>
      {c.yTicks.map(t => (
        <line key={'h' + t} x1={c.box.l} x2={c.box.r} y1={y(t)} y2={y(t)} stroke="#ebebeb" strokeWidth={1.1} />
      ))}
      {dateTicks.map(t => (
        <line key={'v' + t.getTime()} x1={x(t)} x2={x(t)} y1={c.box.t} y2={c.box.b} stroke="#ebebeb" strokeWidth={1.1} />
      ))}
      {c.greys.map((s, i) => (
        <path key={'g' + i} d={line(s) || ''} fill="none" stroke="#000" strokeOpacity={c.greyAlpha[i]} strokeWidth={1.1} strokeLinejoin="round" />
      ))}
      <path d={line(c.low) || ''} fill="none" stroke="#000" strokeOpacity={0.85} strokeWidth={c.lowWidth} />
      <path d={tailLine(c.tail) || ''} fill="none" stroke="#000" strokeWidth={c.lowWidth + 1.5} />
      {c.reds.map((s, i) => (
        <path key={'r' + i} d={line(s) || ''} fill="none" stroke="#ff0000" strokeWidth={1.6} strokeLinejoin="round" />
      ))}
      {c.labels.map(l => {
        const v = c.reds[mutations.indexOf(l.name)]
        return (
          <g key={l.name}>
            <line x1={l.sx} y1={l.sy} x2={lastX} y2={y(v[v.length - 1])} stroke="#000" strokeWidth={1.2} />
            <text x={l.tx} y={l.ty} textAnchor="middle" dominantBaseline="central" fontSize={c.labelSize} fontFamily={SANS}>
              {l.name}
            </text>
          </g>
        )
      })}
      {c.yTicks.map(t => (
        <text key={'yt' + t} x={c.yLabX} y={y(t)} textAnchor="end" dominantBaseline="central" fontSize={c.tick} fill="#333" fontFamily={SANS}>
          {c.yFmt(t)}
        </text>
      ))}
      {dateTicks.map(t => (
        <text key={'xt' + t.getTime()} x={x(t)} y={c.xLabY} textAnchor="middle" dominantBaseline="central" fontSize={c.tick} fill="#333" fontFamily={SANS}>
          {fmt(t)}
        </text>
      ))}
    </g>
  )
}

const greyAlphaA = [0.55, 0.15, 0.15, 0.15, 0.4, 0.15, 0.15, 0.15, 0.15, 0.45, 0.15]
const greyAlphaB = [0.5, 0.35, 0.15, 0.18, 0.15, 0.4, 0.15, 0.13, 0.13, 0.15, 0.5, 0.15, 0.12, 0.12]
const greyAlphaC = [0.6, 0.4, 0.15, 0.15, 0.15, 0.15, 0.15, 0.15, 0.3, 0.25, 0.15]

export default function App() {
  const f2 = d3.format('.2f')
  const f1 = d3.format('.1f')

  const panelA = timePanel({
    xRange: [66, 664],
    yRange: [444, 82],
    yDomain: [0, 1],
    box: { l: 65, r: 665, t: 64, b: 462 },
    yTicks: [0, 0.25, 0.5, 0.75, 1],
    yFmt: f2,
    tick: 15,
    yLabX: 52,
    xLabY: 474,
    greys: [gisaidBg1, gisaidBg2, gisaidBg3, gisaidBg4, gisaidBg5, gisaidBg6, gisaidBg7, gisaidBg8, gisaidBg9, gisaidBg10, gisaidBg11],
    greyAlpha: greyAlphaA,
    low: gisaidLow,
    lowWidth: 1.8,
    tail: gisaidTail,
    reds: [gisaidG23012A, gisaidC22916T, gisaidA22910G, gisaidT22942A, gisaidT22896A],
    labels: [
      { name: 'T22942A', tx: 646, ty: 317, sx: 668, sy: 328 },
      { name: 'C22916T', tx: 620, ty: 338, sx: 642, sy: 350 },
      { name: 'T22896A', tx: 600, ty: 359, sx: 636, sy: 368 },
      { name: 'A22910G', tx: 585, ty: 377, sx: 626, sy: 384 },
      { name: 'G23012A', tx: 568, ty: 399, sx: 609, sy: 402 },
    ],
    labelSize: 18.5,
  })

  const panelB = timePanel({
    xRange: [67, 665],
    yRange: [922, 560],
    yDomain: [0, 1],
    box: { l: 66, r: 666, t: 542, b: 940 },
    yTicks: [0, 0.25, 0.5, 0.75, 1],
    yFmt: f2,
    tick: 15,
    yLabX: 52,
    xLabY: 954,
    greys: [wwBg1, wwBg2, wwBg3, wwBg4, wwBg5, wwBg6, wwBg7, wwBg8, wwBg9, wwBg10, wwBg11, wwBg12, wwBg13, wwBg14],
    greyAlpha: greyAlphaB,
    low: wwLow,
    lowWidth: 3,
    tail: wwTail,
    reds: [wwG23012A, wwC22916T, wwA22910G, wwT22942A, wwT22896A],
    labels: [
      { name: 'T22896A', tx: 610, ty: 753, sx: 648, sy: 762 },
      { name: 'T22942A', tx: 589, ty: 772, sx: 628, sy: 780 },
      { name: 'A22910G', tx: 582, ty: 793, sx: 622, sy: 800 },
      { name: 'C22916T', tx: 578, ty: 815, sx: 616, sy: 816 },
      { name: 'G23012A', tx: 564, ty: 841, sx: 606, sy: 840 },
    ],
    labelSize: 18.5,
  })

  const panelC = timePanel({
    xRange: [846, 1519],
    yRange: [529, 73],
    yDomain: [-1, 1],
    box: { l: 812, r: 1555, t: 52, b: 545 },
    yTicks: [-1, -0.5, 0, 0.5, 1],
    yFmt: f1,
    tick: 19,
    yLabX: 803,
    xLabY: 559,
    greys: [diffBg1, diffBg2, diffBg3, diffBg4, diffBg5, diffBg6, diffBg7, diffBg8, diffBg9, diffBg10, diffBg11],
    greyAlpha: greyAlphaC,
    low: diffLow,
    lowWidth: 5,
    tail: diffTail,
    reds: [diffG23012A, diffC22916T, diffA22910G, diffT22942A, diffT22896A],
    labels: [
      { name: 'G23012A', tx: 1515, ty: 90, sx: 1553, sy: 103 },
      { name: 'C22916T', tx: 1485, ty: 115, sx: 1523, sy: 127 },
      { name: 'A22910G', tx: 1457, ty: 138, sx: 1502, sy: 150 },
      { name: 'T22942A', tx: 1454, ty: 159, sx: 1497, sy: 171 },
      { name: 'T22896A', tx: 1444, ty: 187, sx: 1487, sy: 199 },
    ],
    labelSize: 21,
  })

  // panel D scales
  const xD = d3.scalePoint<number>().domain(lagWeeks).range([848, 1445])
  const yD = d3.scaleLinear().domain([0.0324, 0.186]).range([1063, 636])
  const halfW = 19
  const fInt = d3.format('d')

  return (
    <svg width={1563} height={1144} style={{ position: 'absolute', left: 0, top: 0, background: '#fff' }}>
      <rect width={1563} height={1144} fill="#fff" />

      {/* A */}
      {panelA}
      <text x={14} y={29} fontSize={26} fontFamily={DEJAVU}>A</text>
      <text x={72} y={55} fontSize={25} fontFamily={DEJAVU}>Mutations in GISAID (Norway)</text>
      <text transform="translate(8,260) rotate(-90)" textAnchor="middle" dominantBaseline="central" fontSize={16.5} fontFamily={DEJAVU}>Prevalence</text>
      <text x={365} y={494} textAnchor="middle" dominantBaseline="central" fontSize={18} fontFamily={SANS}>Date</text>

      {/* B */}
      {panelB}
      <text x={12} y={538} fontSize={26} fontFamily={DEJAVU}>B</text>
      <text x={67} y={547} fontSize={25} fontFamily={DEJAVU}>Mutations in wastewater</text>
      <text transform="translate(8,737) rotate(-90)" textAnchor="middle" dominantBaseline="central" fontSize={16.5} fontFamily={DEJAVU}>Prevalence</text>
      <text x={366} y={975} textAnchor="middle" dominantBaseline="central" fontSize={18} fontFamily={SANS}>Date</text>

      {/* C */}
      {panelC}
      <text x={737} y={47} fontSize={27} fontFamily={DEJAVU}>C</text>
      <text transform="translate(746,290) rotate(-90)" textAnchor="middle" dominantBaseline="central" fontSize={19} fontFamily={DEJAVU}>
        Prevalence Wastewater - Prevalence GISAID
      </text>
      <text x={1182} y={583} textAnchor="middle" dominantBaseline="central" fontSize={20} fontFamily={SANS}>Date</text>

      {/* D */}
      <text x={740} y={622} fontSize={27} fontFamily={DEJAVU}>D</text>
      {lagWeeks.map((w, i) => {
        const cx = xD(w) as number
        return (
          <g key={'box' + w}>
            <line x1={cx} x2={cx} y1={yD(whiskerHigh[i])} y2={yD(boxQ3[i])} stroke="#333" strokeWidth={1.6} />
            <line x1={cx} x2={cx} y1={yD(boxQ1[i])} y2={yD(whiskerLow[i])} stroke="#333" strokeWidth={1.6} />
            <rect x={cx - halfW} y={yD(boxQ3[i])} width={halfW * 2} height={yD(boxQ1[i]) - yD(boxQ3[i])} fill="#ff6464" stroke="#333" strokeWidth={1.8} />
            <line x1={cx - halfW} x2={cx + halfW} y1={yD(boxMedian[i])} y2={yD(boxMedian[i])} stroke="#333" strokeWidth={3.5} />
            {outliers[i].map((o, j) => (
              <circle key={'o' + j} cx={cx} cy={yD(o)} r={3.8} fill="#333" fillOpacity={0.8} />
            ))}
            {lagPoints[i].map((p, j) => (
              <circle key={'p' + j} cx={cx} cy={yD(p)} r={4} fill="#333" fillOpacity={0.35} stroke="#333" strokeOpacity={0.35} strokeWidth={1} />
            ))}
          </g>
        )
      })}
      <line x1={xD(sigPair[0]) as number} x2={xD(sigPair[1]) as number} y1={yD(sigLevel)} y2={yD(sigLevel)} stroke="#000" strokeWidth={1.3} />
      <text x={((xD(sigPair[0]) as number) + (xD(sigPair[1]) as number)) / 2} y={yD(sigLevel) - 1} textAnchor="middle" fontSize={20} fontFamily={DEJAVU}>
        {sigText}
      </text>
      <line x1={820} x2={820} y1={636} y2={1063} stroke="#000" strokeWidth={1.3} />
      <line x1={820} x2={1478} y1={1063} y2={1063} stroke="#000" strokeWidth={1.3} />
      {[0.05, 0.1, 0.15].map(t => (
        <g key={'dy' + t}>
          <line x1={814} x2={820} y1={yD(t)} y2={yD(t)} stroke="#000" strokeWidth={1.3} />
          <text x={805} y={yD(t)} textAnchor="end" dominantBaseline="central" fontSize={14} fontFamily={SANS}>
            {f2(t)}
          </text>
        </g>
      ))}
      {lagWeeks.map(w => (
        <g key={'dx' + w}>
          <line x1={xD(w) as number} x2={xD(w) as number} y1={1063} y2={1072} stroke="#000" strokeWidth={1.3} />
          <text x={xD(w) as number} y={1087} textAnchor="middle" dominantBaseline="central" fontSize={14} fontFamily={SANS}>
            {fInt(w)}
          </text>
        </g>
      ))}
      <text transform="translate(757,860) rotate(-90)" textAnchor="middle" dominantBaseline="central" fontSize={19} fontFamily={DEJAVU}>
        |Prevalence Wastewater - Prevalence GISAID|
      </text>
      <text x={1160} y={1125} textAnchor="middle" dominantBaseline="central" fontSize={21} fontFamily={DEJAVU}>
        Time difference (weeks)
      </text>

      {/* preprint watermark */}
      <g fontFamily={SANS} fontSize={20}>
        <text x={801} y={60} textAnchor="middle" textLength={1342} lengthAdjust="spacingAndGlyphs">
          medRxiv preprint doi: <tspan fill="#0000ff">https://doi.org/10.1101/2024.08.27.24312690</tspan>; this version posted August 28, 2024. The copyright holder for this preprint
        </text>
        <text x={801.5} y={82} textAnchor="middle" textLength={1279} lengthAdjust="spacingAndGlyphs">
          <tspan fill="#0000ff" fontWeight="bold" style={{ textDecoration: 'underline' }}>(which was not certified by peer review)</tspan> is the author/funder, who has granted medRxiv a license to display the preprint in perpetuity.
        </text>
        <text x={801.5} y={104} textAnchor="middle" textLength={651} lengthAdjust="spacingAndGlyphs">
          It is made available under a <tspan fill="#0000ff">CC-BY-NC-ND 4.0 International license</tspan> .
        </text>
      </g>
    </svg>
  )
}
